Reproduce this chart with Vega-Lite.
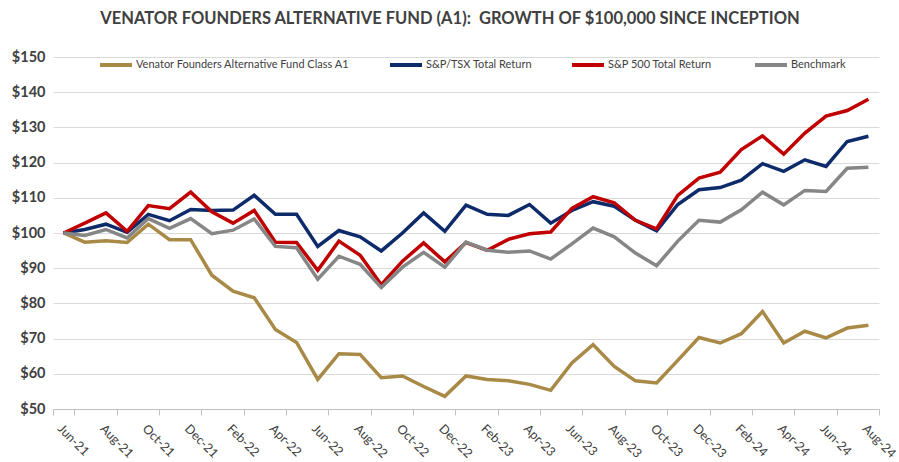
{
  "$schema": "https://vega.github.io/schema/vega-lite/v6.json",
  "width": 826,
  "height": 352,
  "autosize": {"type": "none"},
  "padding": {"left": 53, "top": 57, "right": 20, "bottom": 53},
  "background": "white",
  "title": {
    "text": "VENATOR FOUNDERS ALTERNATIVE FUND (A1): \u00a0GROWTH OF $100,000 SINCE INCEPTION",
    "anchor": "middle",
    "dx": -16,
    "offset": 20,
    "font": "Lato",
    "fontSize": 16.5,
    "fontWeight": "bold",
    "color": "#404040"
  },
  "config": {
    "view": {"stroke": null},
    "font": "Lato"
  },
  "data": {
    "values": [
      {"m": "Jun-21", "fund": 100, "tsx": 100, "spx": 100, "bench": 100},
      {"m": "Jul-21", "fund": 97.4, "tsx": 101.0, "spx": 102.8, "bench": 99.3},
      {"m": "Aug-21", "fund": 97.8, "tsx": 102.5, "spx": 105.7, "bench": 101.0},
      {"m": "Sep-21", "fund": 97.3, "tsx": 100.2, "spx": 100.5, "bench": 98.6},
      {"m": "Oct-21", "fund": 102.5, "tsx": 105.3, "spx": 107.8, "bench": 104.1},
      {"m": "Nov-21", "fund": 98.1, "tsx": 103.5, "spx": 106.9, "bench": 101.3},
      {"m": "Dec-21", "fund": 98.1, "tsx": 106.7, "spx": 111.6, "bench": 104.1},
      {"m": "Jan-22", "fund": 88.0, "tsx": 106.4, "spx": 106.0, "bench": 99.8},
      {"m": "Feb-22", "fund": 83.5, "tsx": 106.5, "spx": 102.8, "bench": 100.8},
      {"m": "Mar-22", "fund": 81.6, "tsx": 110.7, "spx": 106.4, "bench": 104.0},
      {"m": "Apr-22", "fund": 72.6, "tsx": 105.3, "spx": 97.4, "bench": 96.2},
      {"m": "May-22", "fund": 68.9, "tsx": 105.3, "spx": 97.3, "bench": 95.8},
      {"m": "Jun-22", "fund": 58.4, "tsx": 96.2, "spx": 89.4, "bench": 86.9},
      {"m": "Jul-22", "fund": 65.7, "tsx": 100.7, "spx": 97.7, "bench": 93.4},
      {"m": "Aug-22", "fund": 65.5, "tsx": 98.9, "spx": 93.7, "bench": 91.1},
      {"m": "Sep-22", "fund": 58.9, "tsx": 94.9, "spx": 85.3, "bench": 84.5},
      {"m": "Oct-22", "fund": 59.4, "tsx": 100.0, "spx": 92.0, "bench": 90.3},
      {"m": "Nov-22", "fund": 56.4, "tsx": 105.7, "spx": 97.2, "bench": 94.5},
      {"m": "Dec-22", "fund": 53.6, "tsx": 100.5, "spx": 91.8, "bench": 90.3},
      {"m": "Jan-23", "fund": 59.4, "tsx": 107.9, "spx": 97.3, "bench": 97.4},
      {"m": "Feb-23", "fund": 58.4, "tsx": 105.3, "spx": 95.1, "bench": 95.1},
      {"m": "Mar-23", "fund": 58.0, "tsx": 105.0, "spx": 98.2, "bench": 94.5},
      {"m": "Apr-23", "fund": 57.0, "tsx": 108.1, "spx": 99.8, "bench": 94.9},
      {"m": "May-23", "fund": 55.3, "tsx": 102.8, "spx": 100.3, "bench": 92.6},
      {"m": "Jun-23", "fund": 63.1, "tsx": 106.4, "spx": 107.0, "bench": 96.9},
      {"m": "Jul-23", "fund": 68.3, "tsx": 108.9, "spx": 110.3, "bench": 101.4},
      {"m": "Aug-23", "fund": 62.1, "tsx": 107.6, "spx": 108.6, "bench": 98.9},
      {"m": "Sep-23", "fund": 58.0, "tsx": 103.6, "spx": 103.6, "bench": 94.3},
      {"m": "Oct-23", "fund": 57.4, "tsx": 100.6, "spx": 101.2, "bench": 90.7},
      {"m": "Nov-23", "fund": 63.8, "tsx": 108.1, "spx": 110.7, "bench": 97.7},
      {"m": "Dec-23", "fund": 70.3, "tsx": 112.3, "spx": 115.6, "bench": 103.6},
      {"m": "Jan-24", "fund": 68.75, "tsx": 112.9, "spx": 117.3, "bench": 103.1},
      {"m": "Feb-24", "fund": 71.4, "tsx": 115.0, "spx": 123.7, "bench": 106.6},
      {"m": "Mar-24", "fund": 77.7, "tsx": 119.7, "spx": 127.6, "bench": 111.6},
      {"m": "Apr-24", "fund": 68.75, "tsx": 117.5, "spx": 122.4, "bench": 108.0},
      {"m": "May-24", "fund": 72.1, "tsx": 120.8, "spx": 128.4, "bench": 112.1},
      {"m": "Jun-24", "fund": 70.2, "tsx": 118.9, "spx": 133.2, "bench": 111.8},
      {"m": "Jul-24", "fund": 73.0, "tsx": 126.0, "spx": 134.8, "bench": 118.4},
      {"m": "Aug-24", "fund": 73.8, "tsx": 127.5, "spx": 138.0, "bench": 118.7}
    ]
  },
  "transform": [
    {"fold": ["fund", "tsx", "spx", "bench"], "as": ["series", "value"]}
  ],
  "mark": {"type": "line", "strokeWidth": 3.5, "strokeJoin": "miter"},
  "encoding": {
    "x": {
      "field": "m",
      "type": "ordinal",
      "sort": null,
      "scale": {"paddingInner": 0, "paddingOuter": 0},
      "axis": {
        "title": null,
        "values": ["Jun-21", "Aug-21", "Oct-21", "Dec-21", "Feb-22", "Apr-22", "Jun-22", "Aug-22", "Oct-22", "Dec-22", "Feb-23", "Apr-23", "Jun-23", "Aug-23", "Oct-23", "Dec-23", "Feb-24", "Apr-24", "Jun-24", "Aug-24"],
        "tickBand": "extent",
        "labelAngle": 45,
        "labelAlign": "left",
        "labelBaseline": "top",
        "labelPadding": 7,
        "labelFontSize": 12.5,
        "labelColor": "#404040",
        "domainColor": "#bfbfbf",
        "tickColor": "#bfbfbf",
        "tickSize": 6,
        "grid": false
      }
    },
    "y": {
      "field": "value",
      "type": "quantitative",
      "scale": {"domain": [50, 150], "nice": false, "zero": false},
      "axis": {
        "title": null,
        "values": [50, 60, 70, 80, 90, 100, 110, 120, 130, 140, 150],
        "format": "$d",
        "labelFontSize": 14.5,
        "labelFontWeight": "bold",
        "labelColor": "#404040",
        "labelPadding": 8,
        "ticks": false,
        "domain": false,
        "grid": true,
        "gridColor": "#d9d9d9",
        "gridWidth": 1
      }
    },
    "color": {
      "field": "series",
      "type": "nominal",
      "scale": {
        "domain": ["fund", "tsx", "spx", "bench"],
        "range": ["#a88a46", "#0d2a6b", "#c00000", "#868686"]
      },
      "legend": {
        "title": null,
        "orient": "none",
        "legendX": 45,
        "legendY": -10,
        "direction": "horizontal",
        "columns": 4,
        "columnPadding": 32,
        "symbolType": "stroke",
        "symbolSize": 1024,
        "symbolStrokeWidth": 4,
        "labelOffset": 2,
        "labelFontSize": 11,
        "labelLimit": 400,
        "labelColor": "#404040",
        "labelExpr": "datum.value == 'fund' ? 'Venator Founders Alternative Fund Class A1' : datum.value == 'tsx' ? 'S&P/TSX Total Return' : datum.value == 'spx' ? 'S&P 500  Total Return' : 'Benchmark'"
      }
    }
  }
}
